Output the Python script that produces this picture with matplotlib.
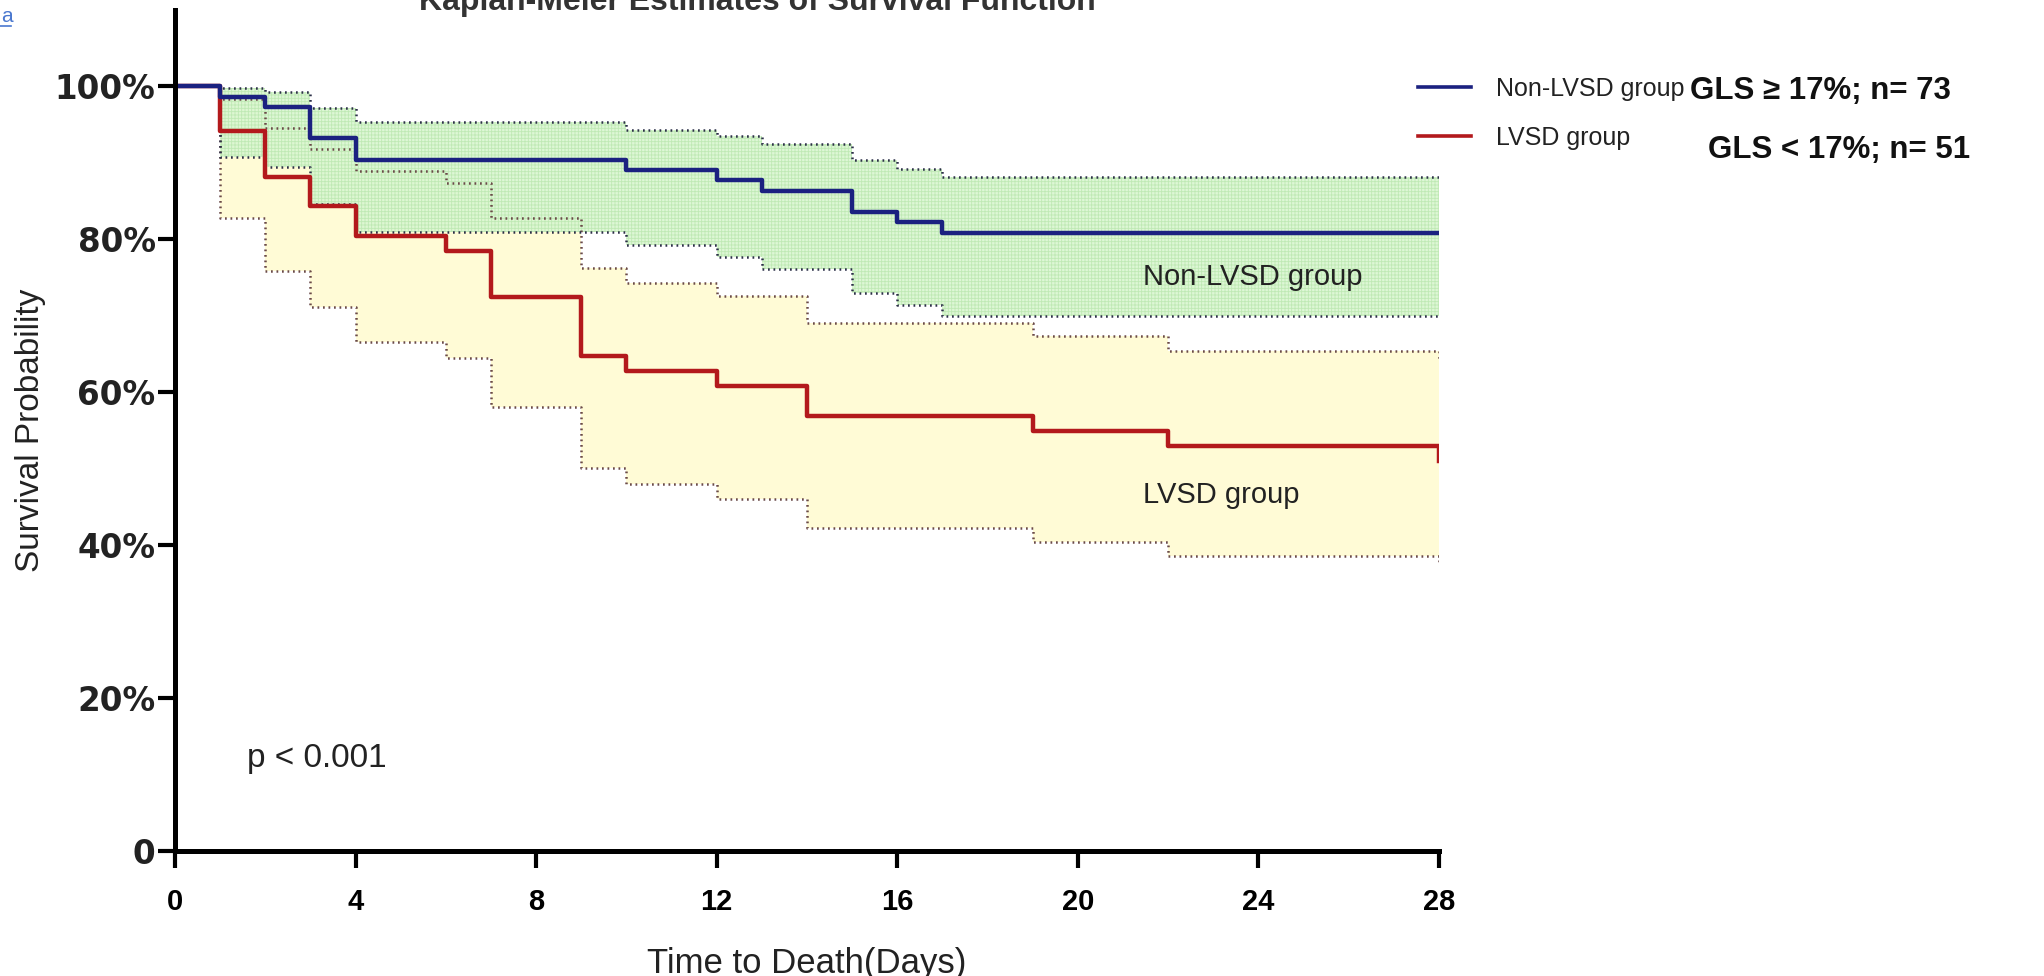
import matplotlib
matplotlib.use("Agg")
import matplotlib.pyplot as plt
from matplotlib.lines import Line2D

# Kaplan-Meier estimates (percent surviving) with 95% confidence limits
days_non = [0, 1, 2, 3, 4, 10, 12, 13, 15, 16, 17, 28]
surv_non = [100, 98.6, 97.3, 93.2, 90.4, 89.0, 87.7, 86.3, 83.6, 82.2, 80.8, 80.8]
upper_non = [100, 99.8, 99.3, 97.2, 95.3, 94.3, 93.5, 92.5, 90.4, 89.2, 88.1, 88.1]
lower_non = [100, 90.7, 89.5, 84.6, 81.0, 79.3, 77.7, 76.1, 73.0, 71.4, 69.9, 69.9]

days_lv = [0, 1, 2, 3, 4, 6, 7, 9, 10, 12, 14, 19, 22, 28]
surv_lv = [100, 94.1, 88.2, 84.3, 80.4, 78.4, 72.5, 64.7, 62.7, 60.8, 56.9, 54.9, 52.9, 51.0]
upper_lv = [100, 98.3, 94.6, 91.8, 88.9, 87.4, 82.8, 76.2, 74.3, 72.6, 69.1, 67.3, 65.4, 64.2]
lower_lv = [100, 82.8, 75.8, 71.1, 66.6, 64.4, 58.1, 50.0, 48.0, 46.0, 42.2, 40.4, 38.6, 37.4]

group_names = ["Non-LVSD group", "LVSD group"]
group_notes = ["GLS \u2265 17%; n= 73", "GLS < 17%; n= 51"]
x_ticks = [0, 4, 8, 12, 16, 20, 24, 28]
y_ticks = [0, 20, 40, 60, 80, 100]
y_tick_labels = ["0", "20%", "40%", "60%", "80%", "100%"]

BLUE = "#1b2180"
RED = "#b3191c"
plt.rcParams["hatch.linewidth"] = 0.6

W, H = 2044, 976
fig = plt.figure(figsize=(W / 100, H / 100), dpi=100)
ax = fig.add_axes([175 / W, 1 - 850.5 / H, (1439 - 175) / W, (850.5 - 10) / H])
ax.set_xlim(0, 28)
ax.set_ylim(0, 110)

dots = (0, (0.7, 1.5))

# LVSD confidence band
ax.fill_between(days_lv, lower_lv, upper_lv, step="post",
                facecolor="#fffbd6", edgecolor="none", lw=0, zorder=1)
# Non-LVSD confidence band (gridded texture)
ax.fill_between(days_non, lower_non, upper_non, step="post",
                facecolor="#daf7d2", edgecolor="#bde8b2", hatch="+++++",
                lw=0, alpha=0.92, zorder=2)

for lim in (upper_lv, lower_lv):
    ax.step(days_lv, lim, where="post", color="#6a4a48", lw=1.8,
            linestyle=dots, zorder=3)
for lim in (upper_non, lower_non):
    ax.step(days_non, lim, where="post", color="#2c3048", lw=1.8,
            linestyle=dots, zorder=3)

h_lv, = ax.step(days_lv, surv_lv, where="post", color=RED, lw=3.2, zorder=4)
h_non, = ax.step(days_non, surv_non, where="post", color=BLUE, lw=3.2, zorder=5)

# Axes styling
for side in ("top", "right"):
    ax.spines[side].set_visible(False)
for side in ("left", "bottom"):
    ax.spines[side].set_linewidth(3.6)
    ax.spines[side].set_zorder(6)
ax.set_xticks(x_ticks)
ax.set_yticks(y_ticks)
ax.set_yticklabels(y_tick_labels)
ax.tick_params(axis="both", direction="out", length=12, width=3)
ax.tick_params(axis="x", pad=15)
ax.tick_params(axis="y", pad=2)
for lab in ax.get_xticklabels():
    lab.set_fontfamily("Liberation Sans")
    lab.set_fontweight("bold")
    lab.set_fontsize(21)
for lab in ax.get_yticklabels():
    lab.set_fontfamily("DejaVu Sans")
    lab.set_fontweight("bold")
    lab.set_fontsize(23.5)
    lab.set_color("#222222")

ax.set_xlabel("Time to Death(Days)", fontfamily="Liberation Sans",
              fontsize=25, labelpad=22, color="#222222")
ax.set_ylabel("Survival Probability", fontfamily="Liberation Sans",
              fontsize=24, labelpad=6, color="#222222")

# Group labels inside the plot
ax.text(21.45, 75.0, group_names[0], fontfamily="Liberation Sans",
        fontsize=21, color="#222222", va="center")
ax.text(21.45, 46.5, group_names[1], fontfamily="Liberation Sans",
        fontsize=21, color="#222222", va="center")
ax.text(1.6, 12.0, "p < 0.001", fontfamily="Liberation Sans",
        fontsize=24, color="#222222", va="center")

# Legend and group descriptions
leg = ax.legend([h_non, h_lv], group_names, loc="upper left",
                bbox_to_anchor=(1418 / W, 1 - 77 / H),
                bbox_transform=fig.transFigure, frameon=False,
                prop={"family": "Liberation Sans", "size": 18},
                handlelength=2.1, handletextpad=1.0, labelspacing=1.0,
                borderpad=0, borderaxespad=0)
for t in leg.get_texts():
    t.set_color("#222222")
for h in leg.legend_handles:
    h.set_linewidth(2.6)

fig.text(1690 / W, 1 - 91 / H, group_notes[0], fontfamily="Liberation Sans",
         fontweight="bold", fontsize=22.5, va="center", color="#111111")
fig.text(1708 / W, 1 - 150 / H, group_notes[1], fontfamily="Liberation Sans",
         fontweight="bold", fontsize=22.5, va="center", color="#111111")

# Title (partly above the top edge)
fig.text(757 / W, 1 - 10 / H, "Kaplan-Meier Estimates of Survival Function",
         ha="center", va="baseline", fontfamily="Liberation Sans",
         fontweight="bold", fontsize=23, color="#333333")

# Link glyph in the top-left corner
fig.text(1 / W, 1 - 22 / H, "a", fontfamily="Liberation Sans", fontsize=15,
         color="#4a78cf", va="baseline")
fig.add_artist(Line2D([0, 11 / W], [1 - 26 / H, 1 - 26 / H],
                      transform=fig.transFigure, color="#4a78cf", lw=1.2))

fig.savefig("out.png", dpi=100)
